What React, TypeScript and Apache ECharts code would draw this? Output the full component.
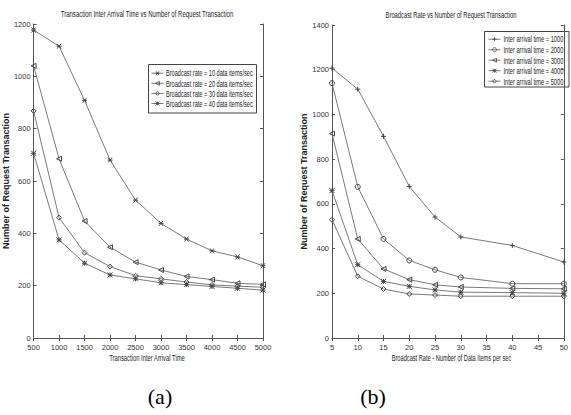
import React, { useEffect, useRef } from "react";
import * as echarts from "echarts";

const leftX = [500, 1000, 1500, 2000, 2500, 3000, 3500, 4000, 4500, 5000];
const leftNames = [
  "Broadcast rate = 10 data items/sec",
  "Broadcast rate = 20 data items/sec",
  "Broadcast rate = 30 data items/sec",
  "Broadcast rate = 40 data items/sec",
];
const leftRate10 = [1177, 1115, 908, 680, 527, 438, 378, 333, 310, 276];
const leftRate20 = [1040, 685, 447, 347, 290, 260, 235, 223, 209, 205];
const leftRate30 = [868, 460, 326, 273, 238, 226, 214, 203, 198, 194];
const leftRate40 = [706, 375, 286, 241, 226, 211, 204, 197, 190, 183];

const rightX = [5, 10, 15, 20, 25, 30, 40, 50];
const rightNames = [
  "Inter arrival time = 1000",
  "Inter arrival time = 2000",
  "Inter arrival time = 3000",
  "Inter arrival time = 4000",
  "Inter arrival time = 5000",
];
const right1000 = [1207, 1113, 902, 678, 541, 452, 414, 340];
const right2000 = [1140, 676, 443, 347, 305, 271, 243, 243];
const right3000 = [914, 443, 309, 261, 238, 228, 222, 220];
const right4000 = [659, 328, 253, 231, 215, 205, 203, 200];
const right5000 = [529, 276, 219, 197, 192, 187, 187, 187];

const FONT = "'Liberation Sans', Arial, sans-serif";
const LINE = "#7a7a7a";
const MARK = "#444";
const TXT = "#222";

const PLUS = "path://M5,0L5,10M0,5L10,5";
const STAR = "path://M0,0L10,10M10,0L0,10M5,0L5,10M0,5L10,5";
const XMARK = "path://M1,1L9,9M9,1L1,9M0,5L10,5";

function mk(name: string, xs: number[], ys: number[], xi: number, symbol: string, rotate = 0) {
  return {
    type: "line",
    name,
    xAxisIndex: xi,
    yAxisIndex: xi,
    data: xs.map((x, i) => [x, ys[i]]),
    symbol,
    symbolRotate: rotate,
    symbolSize: 5,
    showSymbol: true,
    lineStyle: { color: LINE, width: 1 },
    itemStyle: { color: "transparent", borderColor: MARK, borderWidth: 1 },
    emphasis: { disabled: true },
  };
}

function axisCommon(min: number, max: number, interval: number, margin = 3) {
  return {
    type: "value",
    min,
    max,
    interval,
    splitLine: { show: false },
    axisLine: { show: true, lineStyle: { color: "#555", width: 1 } },
    axisTick: { show: true, inside: true, length: 3, lineStyle: { color: "#555" } },
    axisLabel: { fontFamily: FONT, fontSize: 7.5, color: "#333", margin, formatter: (v: number) => String(v) },
  };
}

function sText(text: string, x: number, y: number, sx: number, size: number, align = "center") {
  return {
    type: "text",
    x,
    y,
    scaleX: sx,
    silent: true,
    style: { text, font: `${size}px ${FONT}`, fill: TXT, align, verticalAlign: "middle" },
  };
}

const yName = {
  name: "Number of Request Transaction",
  nameLocation: "middle",
  nameGap: 14,
  nameTextStyle: { fontFamily: FONT, fontSize: 9, fontWeight: "bold", color: TXT },
};

const legendCommon = {
  orient: "vertical",
  padding: 0,
  itemWidth: 12,
  itemHeight: 5,
  formatter: () => "",
  textStyle: { fontSize: 5, lineHeight: 5 },
  selectedMode: false,
  itemStyle: { color: "transparent", borderColor: MARK, borderWidth: 0.8 },
  lineStyle: { color: LINE, width: 1 },
};

export default function App() {
  const ref = useRef<HTMLDivElement>(null);
  useEffect(() => {
    if (!ref.current) return;
    const chart = echarts.init(ref.current, undefined, { renderer: "svg" });
    const hidden = { show: false };
    const leftRows = [73.3, 84, 94.3, 104.3];
    const rightRows = [39.3, 50, 60.7, 71.4, 82];
    chart.setOption({
      animation: false,
      backgroundColor: "#fff",
      grid: [
        { left: 31, top: 24, width: 232, height: 314 },
        { left: 332, top: 25, width: 238, height: 313 },
      ],
      xAxis: [
        { ...axisCommon(500, 5000, 500, 5), gridIndex: 0 },
        { ...axisCommon(5, 50, 5, 5), gridIndex: 1 },
        { ...axisCommon(500, 5000, 500), gridIndex: 0, position: "top", axisLabel: hidden },
        { ...axisCommon(5, 50, 5), gridIndex: 1, position: "top", axisLabel: hidden },
      ],
      yAxis: [
        { ...axisCommon(0, 1200, 200), gridIndex: 0, ...yName },
        { ...axisCommon(0, 1400, 200), gridIndex: 1, ...yName },
        { ...axisCommon(0, 1200, 200), gridIndex: 0, position: "right", axisLabel: hidden },
        { ...axisCommon(0, 1400, 200), gridIndex: 1, position: "right", axisLabel: hidden },
      ],
      legend: [
        {
          ...legendCommon,
          data: leftNames,
          left: 151,
          top: leftRows[0] - 2.5,
          itemGap: 5.3,
        },
        {
          ...legendCommon,
          data: rightNames,
          left: 488,
          top: rightRows[0] - 2.5,
          itemGap: 5.7,
        },
      ],
      graphic: [
        {
          type: "rect",
          silent: true,
          z: -1,
          shape: { x: 148.5, y: 64.5, width: 108, height: 48.5 },
          style: { fill: "#fff", stroke: "#444", lineWidth: 1 },
        },
        {
          type: "rect",
          silent: true,
          z: -1,
          shape: { x: 484.5, y: 31.5, width: 84.5, height: 55.5 },
          style: { fill: "#fff", stroke: "#444", lineWidth: 1 },
        },
        ...leftNames.map((n, i) => sText(n, 166, leftRows[i], 0.66, 8.5, "left")),
        ...rightNames.map((n, i) => sText(n, 503.5, rightRows[i], 0.67, 8.5, "left")),
        sText("Transaction Inter Arrival Time vs Number of Request Transaction", 147, 14, 0.67, 9),
        sText("Broadcast Rate vs Number of Request Transaction", 451, 15, 0.645, 9),
        sText("Transaction Inter Arrival Time", 147, 358.3, 0.65, 9),
        sText("Broadcast Rate - Number of Data Items per sec", 451.5, 357.8, 0.63, 9),
        {
          type: "text",
          x: 160,
          y: 396,
          silent: true,
          style: {
            text: "(a)",
            font: "22px 'Liberation Serif', 'Times New Roman', serif",
            fill: "#000",
            align: "center",
            verticalAlign: "middle",
          },
        },
        {
          type: "text",
          x: 373,
          y: 396,
          silent: true,
          style: {
            text: "(b)",
            font: "22px 'Liberation Serif', 'Times New Roman', serif",
            fill: "#000",
            align: "center",
            verticalAlign: "middle",
          },
        },
      ],
      series: [
        mk(leftNames[0], leftX, leftRate10, 0, XMARK),
        mk(leftNames[1], leftX, leftRate20, 0, "triangle", 90),
        mk(leftNames[2], leftX, leftRate30, 0, "diamond"),
        mk(leftNames[3], leftX, leftRate40, 0, STAR),
        mk(rightNames[0], rightX, right1000, 1, PLUS),
        mk(rightNames[1], rightX, right2000, 1, "circle"),
        mk(rightNames[2], rightX, right3000, 1, "triangle", 90),
        mk(rightNames[3], rightX, right4000, 1, STAR),
        mk(rightNames[4], rightX, right5000, 1, "diamond"),
      ],
    });
    return () => chart.dispose();
  }, []);
  return (
    <div
      ref={ref}
      style={{ position: "fixed", left: 0, top: 0, width: 571, height: 415, background: "#fff" }}
    />
  );
}
